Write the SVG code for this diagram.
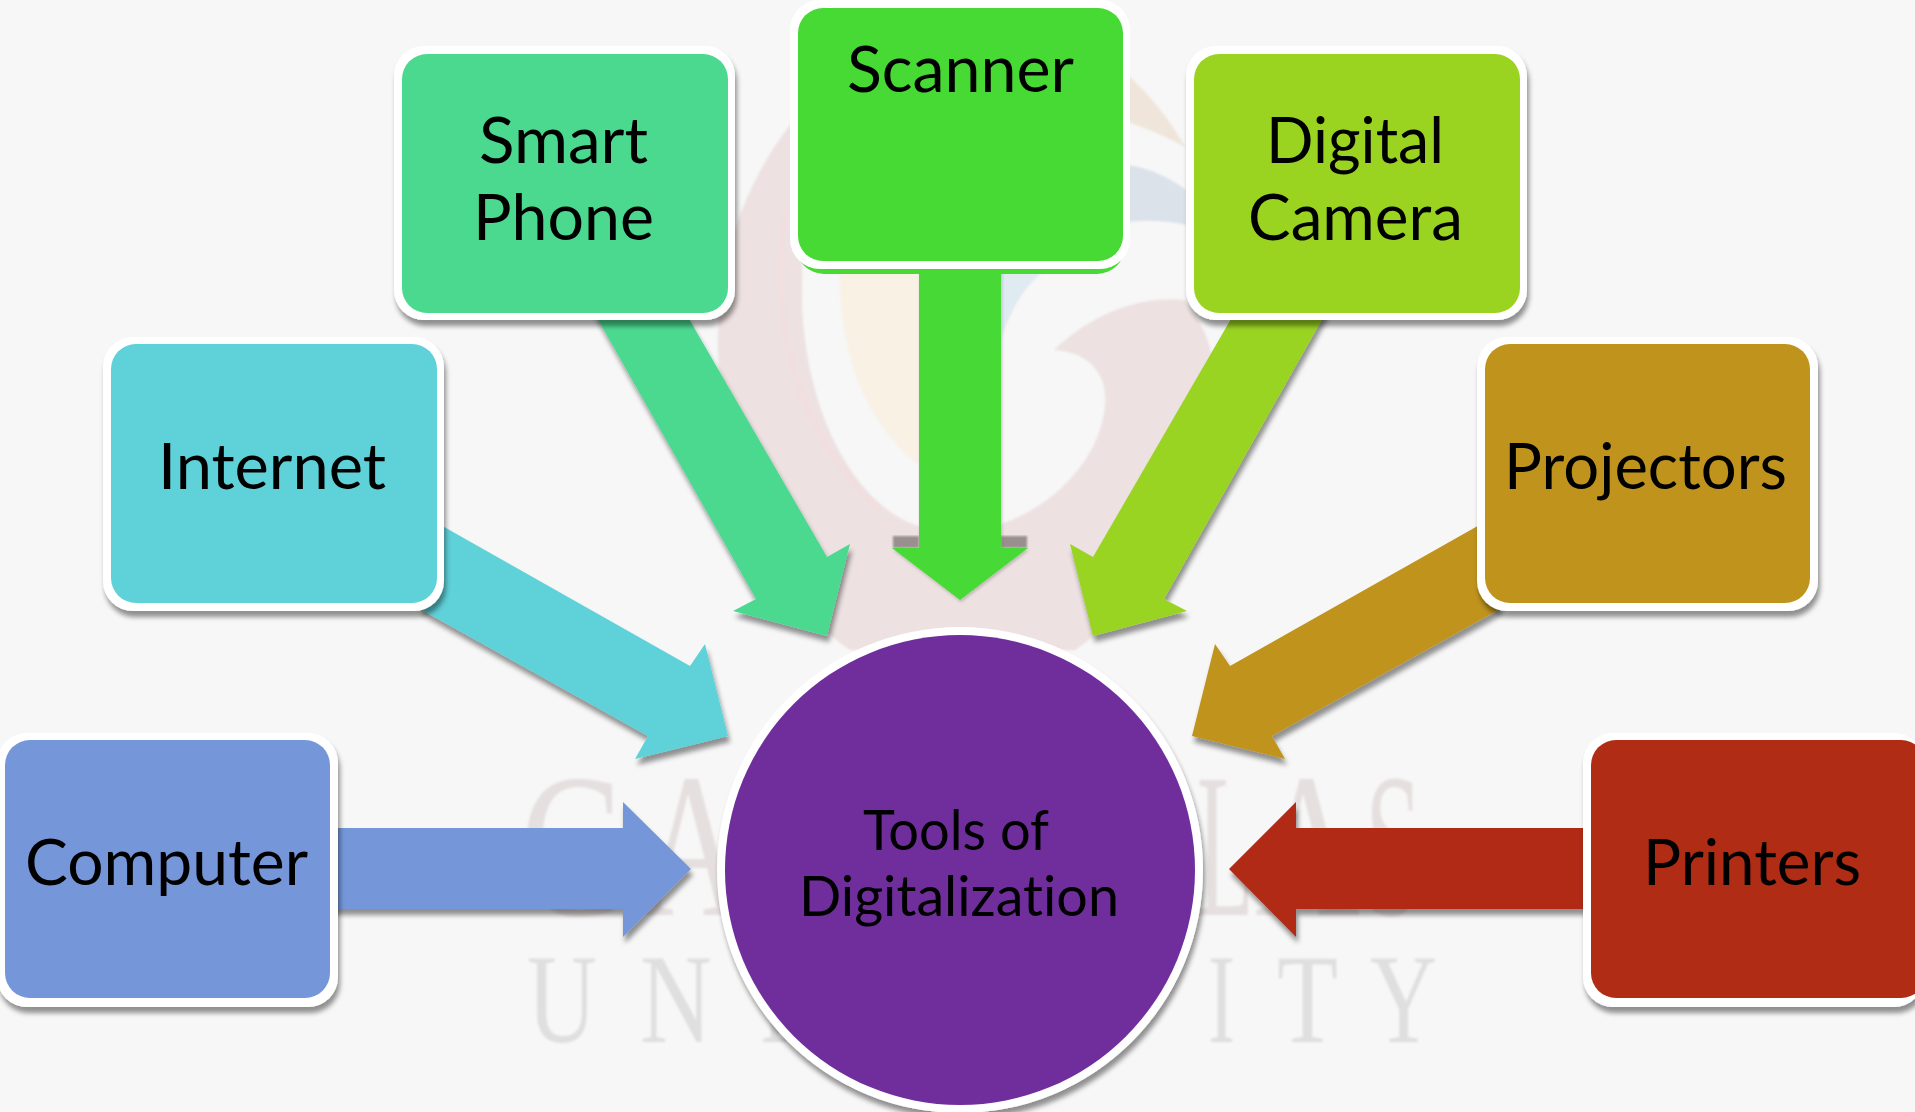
<svg xmlns="http://www.w3.org/2000/svg" width="1915" height="1112" viewBox="0 0 1915 1112">
<defs>
<filter id="sh" x="-10%" y="-10%" width="125%" height="125%"><feDropShadow dx="2" dy="6" stdDeviation="2.5" flood-color="#000" flood-opacity="0.42"/></filter>
<filter id="shl" x="-10%" y="-10%" width="125%" height="125%"><feDropShadow dx="1" dy="2" stdDeviation="1.5" flood-color="#000" flood-opacity="0.2"/></filter>
<filter id="bl" x="-5%" y="-5%" width="110%" height="110%"><feGaussianBlur stdDeviation="1.2"/></filter>
</defs>
<style>
text{font-family:"Lato","Carlito","Liberation Sans",sans-serif;fill:#000;font-size:64px;text-anchor:start;font-variant-ligatures:none}
.t{font-size:57px}
.wm text{font-family:"Liberation Serif",serif;font-size:128px;fill:#dfdfdf}
.wm text.b{font-size:205px;fill:#e6dfdf}
.o{fill:#fff;filter:url(#sh)}
</style>
<rect id="background" width="1915" height="1112" fill="#f7f7f7"/>
<g id="watermark" class="wm" filter="url(#bl)">
<path fill="#ede1e1" d="M790,125C740,190 716,270 718,346C720,480 775,600 850,650L1075,650C1150,600 1215,480 1215,385C1215,345 1200,320 1185,300C1140,295 1090,315 1054,350C1090,352 1108,375 1105,406C1100,460 1050,515 980,530L940,530C860,525 800,410 802,287C802,220 815,160 850,110Z"/>
<path fill="none" stroke="#f3dede" stroke-width="4" d="M785,215C770,310 790,430 880,510"/>
<path fill="#f8f1e4" d="M840,270C838,340 860,420 919,465L919,270Z"/>
<path fill="#dfeaf1" d="M1001,270L1045,270C1025,285 1010,310 1001,340Z"/>
<path fill="#efe5da" d="M1128,75C1150,95 1170,120 1186,148C1170,138 1150,130 1128,122Z"/>
<path fill="#dbe2ea" d="M1128,165C1150,168 1170,178 1186,190L1186,225C1165,220 1145,220 1128,222Z"/>
<text class="b" transform="translate(520,915) scale(.746,1)">C</text>
<text class="b" transform="translate(640,915) scale(.71,1)">A</text>
<text class="b" transform="translate(1197,915) scale(.456,1)">L</text>
<text class="b" transform="translate(1255,915) scale(.71,1)">A</text>
<text class="b" transform="translate(1365,915) scale(.5,1)">S</text>
<text transform="translate(527,1042) scale(.757,1)">U</text>
<text transform="translate(640,1042) scale(.779,1)">N</text>
<text transform="translate(760,1042) scale(.7,1)">I</text>
<text transform="translate(1208,1042) scale(.634,1)">I</text>
<text transform="translate(1277,1042) scale(.78,1)">T</text>
<text transform="translate(1370,1042) scale(.725,1)">Y</text>
</g>
<g id="connectors">
<polygon fill="#7596d9" filter="url(#sh)" points="320,828 623,828 623,802 691,869 623,937 623,909 320,909"/>
<polygon fill="#b02c15" filter="url(#sh)" points="1600,828 1296,828 1296,802 1229,869 1296,937 1296,909 1600,909"/>
<polygon fill="#5fd1d9" filter="url(#sh)" points="430,519 690,666 705,644 728,736 635,759 648,736 420,609"/>
<polygon fill="#bf931c" filter="url(#sh)" points="1490,519 1230,666 1215,644 1192,736 1285,759 1272,736 1500,609"/>
<polygon fill="#4bd990" filter="url(#sh)" points="587,300 678,300 827,557 850,544 827,636 733,611 756,599"/>
<polygon fill="#9ad420" filter="url(#sh)" points="1333,300 1242,300 1093,557 1070,544 1093,636 1187,611 1164,599"/>
<rect x="893" y="536" width="26" height="12" fill="#9a8f8f" filter="url(#bl)"/>
<rect x="1001" y="536" width="26" height="12" fill="#9a8f8f" filter="url(#bl)"/>
<polygon fill="#47d934" filter="url(#shl)" points="919,260 1001,260 1001,548 1028,548 960,600 892,548 919,548"/>
</g>
<g id="node-computer"><rect class="o" x="-3" y="733" width="341" height="274" rx="30"/><rect x="5" y="740" width="325" height="258" rx="25" fill="#7596d9"/><text x="25" y="885" textLength="283" lengthAdjust="spacingAndGlyphs">Computer</text></g>
<g id="node-internet"><rect class="o" x="103" y="337" width="341" height="274" rx="30"/><rect x="111" y="344" width="326" height="259" rx="25" fill="#5fd1d9"/><text x="158" y="489" textLength="228" lengthAdjust="spacingAndGlyphs">Internet</text></g>
<g id="node-smart-phone"><rect class="o" x="394" y="46" width="341" height="274" rx="30"/><rect x="402" y="54" width="326" height="259" rx="25" fill="#4bd990"/><text x="479" y="163" textLength="169" lengthAdjust="spacingAndGlyphs">Smart</text><text x="473" y="240" textLength="181" lengthAdjust="spacingAndGlyphs">Phone</text></g>
<g id="node-scanner"><rect x="796" y="200" width="329" height="74" rx="28" fill="#47d934"/><rect x="790" y="0" width="340" height="269" rx="30" fill="#fff"/><rect x="798" y="8" width="325" height="253" rx="25" fill="#47d934"/><text x="847" y="92" textLength="227" lengthAdjust="spacingAndGlyphs">Scanner</text></g>
<g id="node-digital-camera"><rect class="o" x="1186" y="46" width="341" height="274" rx="30"/><rect x="1194" y="54" width="326" height="259" rx="25" fill="#9ad420"/><text x="1266" y="163" textLength="178" lengthAdjust="spacingAndGlyphs">Digital</text><text x="1248" y="240" textLength="215" lengthAdjust="spacingAndGlyphs">Camera</text></g>
<g id="node-projectors"><rect class="o" x="1477" y="337" width="341" height="274" rx="30"/><rect x="1485" y="344" width="325" height="259" rx="25" fill="#bf931c"/><text x="1504" y="489" textLength="283" lengthAdjust="spacingAndGlyphs">Projectors</text></g>
<g id="node-printers"><rect class="o" x="1583" y="733" width="341" height="274" rx="30"/><rect x="1591" y="740" width="335" height="258" rx="25" fill="#b02c15"/><text x="1643" y="885" textLength="218" lengthAdjust="spacingAndGlyphs">Printers</text></g>
<g id="node-center"><circle class="o" cx="960" cy="870" r="243"/><circle cx="960" cy="870" r="235" fill="#6f2e9c"/><text class="t" x="863" y="850" textLength="186" lengthAdjust="spacingAndGlyphs">Tools of</text><text class="t" x="799" y="916" textLength="320" lengthAdjust="spacingAndGlyphs">Digitalization</text></g>
</svg>
